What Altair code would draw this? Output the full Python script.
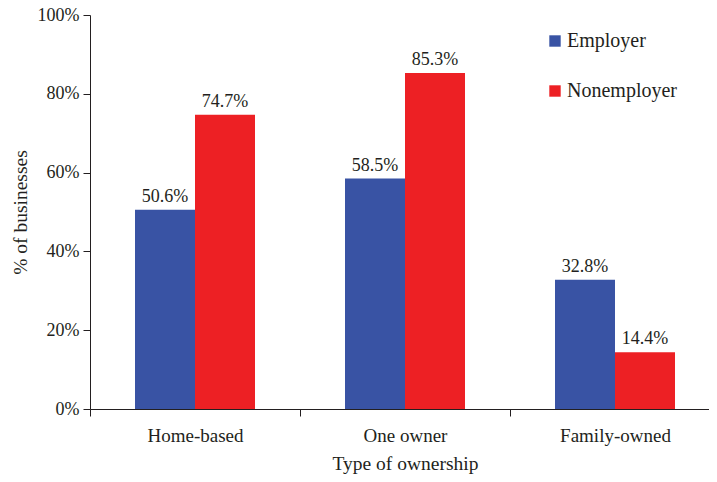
import altair as alt
import pandas as pd

categories = ["Home-based", "One owner", "Family-owned"]
series = ["Employer", "Nonemployer"]
employer = [50.6, 58.5, 32.8]
nonemployer = [74.7, 85.3, 14.4]
colors = ["#3953A4", "#ED2024"]

rows = []
for c, e, n in zip(categories, employer, nonemployer):
    rows.append({"cat": c, "type": series[0], "value": e / 100})
    rows.append({"cat": c, "type": series[1], "value": n / 100})
df = pd.DataFrame(rows)

FONT = "Liberation Serif"
TXT = "#231F20"

x = alt.X(
    "cat:N",
    sort=categories,
    scale=alt.Scale(paddingInner=0, paddingOuter=0, range=[0, 630]),
    axis=alt.Axis(
        title="Type of ownership",
        labelAngle=0,
        tickBand="extent",
        labelPadding=10,
        titlePadding=9,
        labelFont=FONT,
        titleFont=FONT,
        labelFontSize=19,
        titleFontSize=19.5,
    ),
)
xoff = alt.XOffset(
    "type:N",
    sort=series,
    scale=alt.Scale(paddingInner=0, paddingOuter=0.75),
)
y = alt.Y(
    "value:Q",
    scale=alt.Scale(domain=[0, 1], nice=False),
    axis=alt.Axis(
        title="% of businesses",
        format=".0%",
        values=[0, 0.2, 0.4, 0.6, 0.8, 1.0],
        grid=False,
        labelPadding=4,
        titlePadding=7,
        labelFont=FONT,
        titleFont=FONT,
        labelFontSize=18,
        titleFontSize=19.5,
    ),
)

bars = alt.Chart(df).mark_bar().encode(
    x=x,
    xOffset=xoff,
    y=y,
    color=alt.Color(
        "type:N",
        sort=series,
        scale=alt.Scale(domain=series, range=colors),
        legend=alt.Legend(
            title=None,
            orient="none",
            legendX=455,
            legendY=16,
            symbolType="square",
            symbolSize=130,
            symbolStrokeWidth=0,
            labelFontSize=20,
            labelFont=FONT,
            labelColor=TXT,
            rowPadding=30,
            labelOffset=2,
        ),
    ),
)

labels = alt.Chart(df).mark_text(
    baseline="alphabetic", dy=-8, font=FONT, fontSize=18, color=TXT
).encode(
    x=x,
    xOffset=xoff,
    y=y,
    text=alt.Text("value:Q", format=".1%"),
)

chart = (
    alt.layer(bars, labels)
    .properties(
        width=619,
        height=394,
        autosize=alt.AutoSizeParams(type="none"),
        padding={"left": 82, "top": 7, "right": 0, "bottom": 65},
    )
    .configure(font=FONT)
    .configure_view(stroke="transparent")
    .configure_axis(
        labelFont=FONT,
        titleFont=FONT,
        titleFontWeight="normal",
        labelColor=TXT,
        titleColor=TXT,
        domainColor="#231F20",
        tickColor="#231F20",
        tickSize=7,
        domainWidth=1,
        tickWidth=1,
    )
)

chart.save("out.html", embed_options={"renderer": "svg", "actions": False})
